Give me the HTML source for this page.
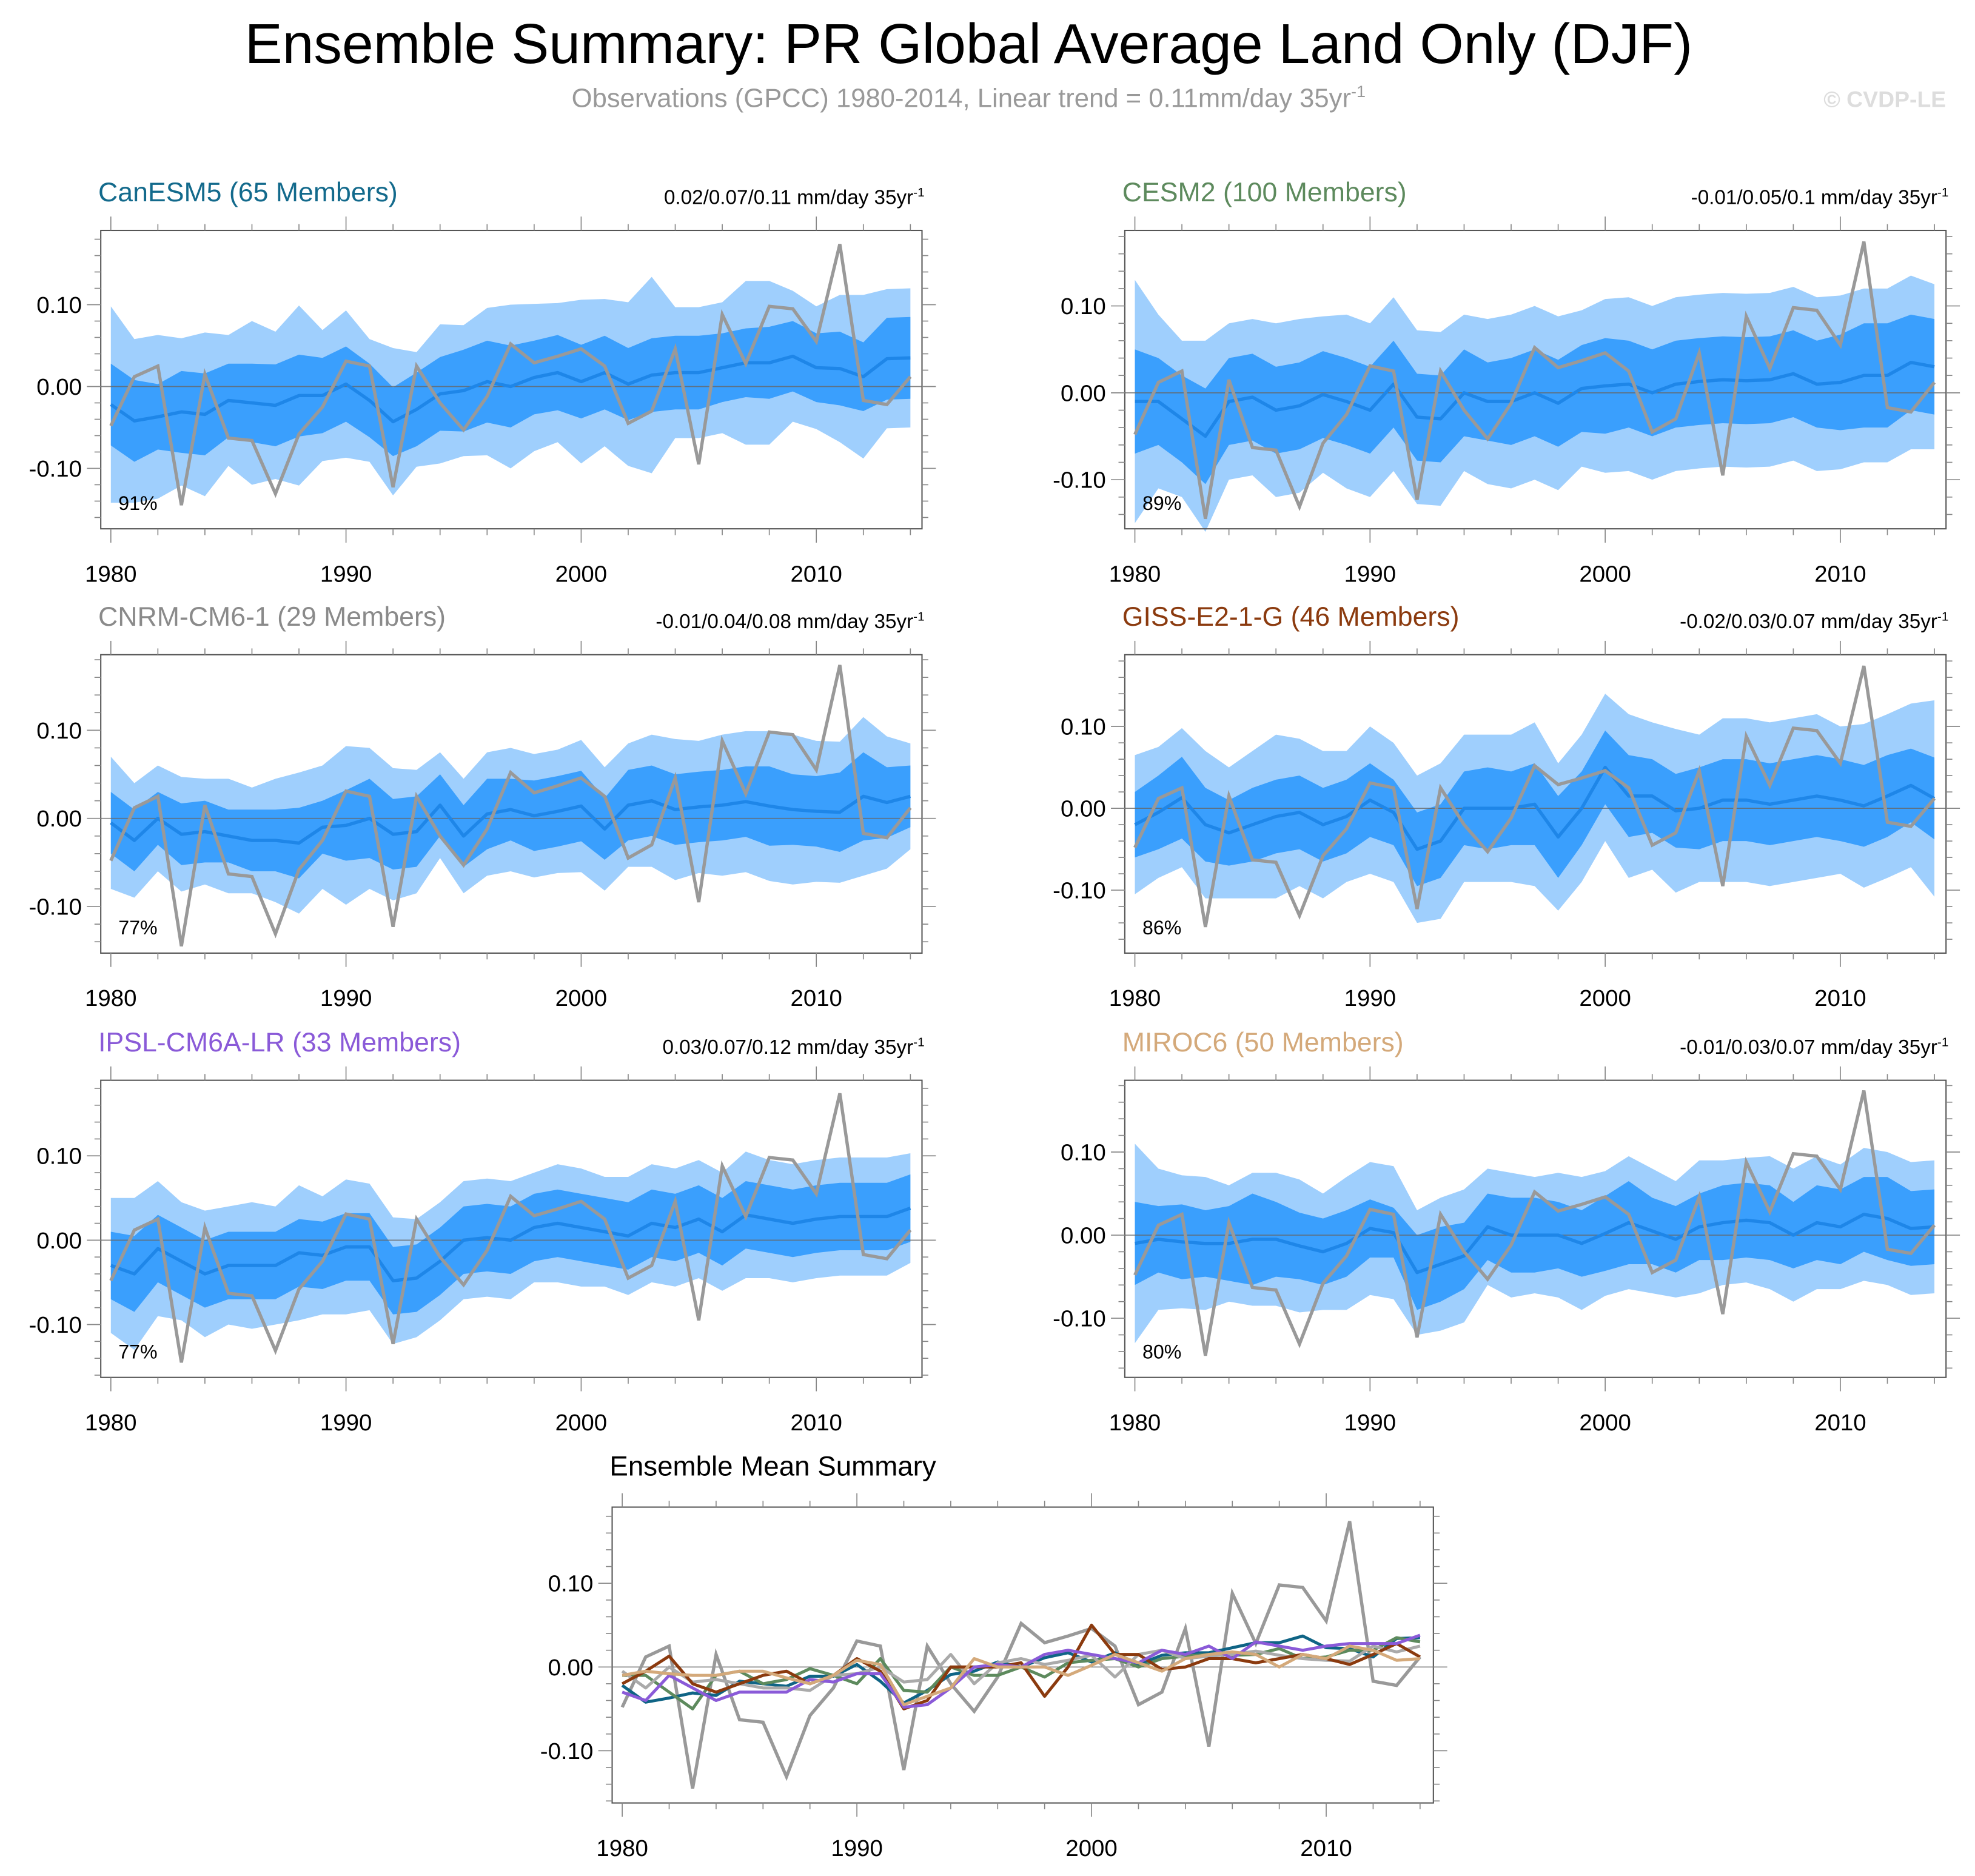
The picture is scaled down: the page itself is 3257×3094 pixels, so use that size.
<!DOCTYPE html>
<html><head><meta charset="utf-8">
<style>
html,body{margin:0;padding:0;background:#fff;}
svg{display:block;font-family:"Liberation Sans",Arial,sans-serif;}
</style></head>
<body>
<svg id="chart" width="3257" height="3094" viewBox="0 0 1568 1490" preserveAspectRatio="none" xmlns="http://www.w3.org/2000/svg">
<text x="769" y="50" font-size="44.8" text-anchor="middle" fill="#000">Ensemble Summary: PR Global Average Land Only (DJF)</text>
<text x="769" y="85" font-size="21" text-anchor="middle" fill="#999">Observations (GPCC) 1980-2014, Linear trend = 0.11mm/day 35yr<tspan dy="-8" font-size="13">-1</tspan></text>
<text x="1545" y="85" font-size="18" font-weight="bold" text-anchor="end" fill="#ddd">© CVDP-LE</text>
<g id="plots"></g>
</svg>
<script>
const years = [1980,1981,1982,1983,1984,1985,1986,1987,1988,1989,1990,1991,1992,1993,1994,1995,1996,1997,1998,1999,2000,2001,2002,2003,2004,2005,2006,2007,2008,2009,2010,2011,2012,2013,2014];
const obsGPCC = [-0.048,0.012,0.025,-0.145,0.015,-0.063,-0.066,-0.131,-0.058,-0.025,0.031,0.025,-0.123,0.025,-0.02,-0.053,-0.012,0.052,0.029,0.037,0.046,0.025,-0.045,-0.03,0.046,-0.095,0.088,0.028,0.098,0.095,0.055,0.174,-0.017,-0.022,0.012];
const yTickLabels = ["0.10","0.00","-0.10"];
const yTickValues = [0.1,0,-0.1];
const xTickValues = [1980,1990,2000,2010];

const meanCanESM5 = [-0.022,-0.042,-0.037,-0.031,-0.034,-0.017,-0.02,-0.023,-0.011,-0.011,0.003,-0.017,-0.043,-0.028,-0.009,-0.005,0.006,0,0.011,0.017,0.006,0.017,0.003,0.014,0.017,0.017,0.023,0.029,0.029,0.037,0.023,0.022,0.012,0.034,0.035];
const innerCanESM5 = [0.05,0.05,0.04,0.05,0.05,0.045,0.048,0.05,0.05,0.046,0.046,0.045,0.042,0.045,0.045,0.05,0.05,0.05,0.045,0.046,0.045,0.045,0.044,0.045,0.045,0.045,0.042,0.042,0.044,0.043,0.042,0.045,0.042,0.05,0.05];
const outerCanESM5 = [0.12,0.1,0.1,0.09,0.1,0.08,0.1,0.09,0.11,0.08,0.09,0.075,0.09,0.07,0.085,0.08,0.09,0.1,0.09,0.085,0.1,0.09,0.1,0.12,0.08,0.08,0.08,0.1,0.1,0.08,0.075,0.09,0.1,0.085,0.085];

const meanCESM2 = [-0.01,-0.01,-0.03,-0.05,-0.01,-0.005,-0.02,-0.015,-0.002,-0.01,-0.02,0.01,-0.028,-0.03,0,-0.01,-0.01,0,-0.012,0.005,0.008,0.01,0,0.01,0.013,0.015,0.014,0.015,0.022,0.01,0.012,0.02,0.02,0.035,0.03];
const innerCESM2 = [0.06,0.05,0.05,0.055,0.05,0.05,0.05,0.05,0.05,0.05,0.05,0.05,0.05,0.05,0.05,0.045,0.05,0.05,0.05,0.05,0.055,0.05,0.05,0.05,0.05,0.05,0.05,0.05,0.05,0.05,0.055,0.06,0.06,0.055,0.055];
const outerCESM2 = [0.14,0.1,0.09,0.11,0.09,0.09,0.1,0.1,0.09,0.1,0.1,0.1,0.1,0.1,0.09,0.095,0.1,0.1,0.1,0.09,0.1,0.1,0.1,0.1,0.1,0.1,0.1,0.1,0.1,0.1,0.1,0.1,0.1,0.1,0.095];

const meanCNRM = [-0.005,-0.025,0,-0.018,-0.015,-0.02,-0.025,-0.025,-0.028,-0.01,-0.008,0,-0.018,-0.015,0.015,-0.02,0.005,0.01,0.003,0.008,0.014,-0.012,0.015,0.02,0.01,0.013,0.015,0.019,0.014,0.01,0.008,0.007,0.025,0.018,0.025];
const innerCNRM = [0.035,0.035,0.03,0.035,0.035,0.03,0.035,0.035,0.04,0.03,0.04,0.045,0.04,0.04,0.035,0.035,0.04,0.035,0.04,0.04,0.04,0.035,0.04,0.04,0.04,0.04,0.04,0.04,0.045,0.04,0.04,0.045,0.05,0.04,0.035];
const outerCNRM = [0.075,0.065,0.06,0.065,0.06,0.065,0.06,0.07,0.08,0.07,0.09,0.08,0.075,0.07,0.06,0.065,0.07,0.07,0.07,0.07,0.075,0.07,0.07,0.075,0.08,0.075,0.08,0.08,0.085,0.085,0.08,0.08,0.09,0.075,0.06];

const meanGISS = [-0.02,-0.005,0.013,-0.02,-0.03,-0.02,-0.01,-0.005,-0.02,-0.01,0.01,-0.005,-0.05,-0.04,0,0,0,0.005,-0.035,0,0.05,0.015,0.015,-0.003,0,0.01,0.01,0.005,0.01,0.015,0.01,0.003,0.015,0.028,0.012];
const innerGISS = [0.04,0.045,0.05,0.045,0.04,0.045,0.045,0.045,0.045,0.045,0.045,0.04,0.045,0.045,0.045,0.05,0.045,0.05,0.05,0.045,0.045,0.05,0.045,0.045,0.05,0.05,0.05,0.05,0.05,0.05,0.05,0.05,0.05,0.045,0.05];
const outerGISS = [0.085,0.08,0.085,0.09,0.08,0.09,0.1,0.09,0.09,0.08,0.09,0.085,0.09,0.095,0.09,0.09,0.09,0.1,0.09,0.09,0.09,0.1,0.09,0.1,0.09,0.1,0.1,0.1,0.1,0.1,0.09,0.1,0.1,0.1,0.12];

const meanIPSL = [-0.03,-0.04,-0.01,-0.025,-0.04,-0.03,-0.03,-0.03,-0.015,-0.018,-0.008,-0.008,-0.048,-0.045,-0.025,0,0.003,0,0.015,0.02,0.015,0.01,0.005,0.02,0.015,0.025,0.01,0.03,0.025,0.02,0.025,0.028,0.028,0.028,0.038];
const innerIPSL = [0.04,0.045,0.04,0.04,0.04,0.04,0.04,0.04,0.04,0.04,0.04,0.04,0.04,0.04,0.04,0.04,0.04,0.04,0.04,0.04,0.04,0.04,0.04,0.04,0.04,0.04,0.04,0.04,0.04,0.04,0.04,0.04,0.04,0.04,0.04];
const outerIPSL = [0.08,0.09,0.08,0.07,0.075,0.07,0.075,0.07,0.08,0.07,0.08,0.075,0.075,0.07,0.07,0.07,0.07,0.07,0.065,0.07,0.07,0.065,0.07,0.07,0.07,0.07,0.07,0.075,0.07,0.07,0.07,0.07,0.07,0.07,0.065];

const meanMIROC6 = [-0.01,-0.005,-0.008,-0.01,-0.01,-0.005,-0.005,-0.013,-0.02,-0.01,0.008,0.003,-0.045,-0.035,-0.025,0.01,0,0,0,-0.01,0.002,0.015,0.005,-0.005,0.01,0.015,0.018,0.015,0,0.015,0.01,0.025,0.02,0.008,0.01];
const innerMIROC6 = [0.05,0.04,0.045,0.04,0.045,0.055,0.045,0.04,0.04,0.04,0.035,0.03,0.045,0.045,0.04,0.04,0.045,0.045,0.04,0.04,0.045,0.05,0.04,0.04,0.04,0.045,0.045,0.045,0.04,0.045,0.045,0.045,0.05,0.045,0.045];
const outerMIROC6 = [0.12,0.085,0.08,0.08,0.07,0.08,0.08,0.08,0.07,0.08,0.08,0.08,0.075,0.08,0.08,0.07,0.075,0.07,0.075,0.08,0.075,0.08,0.075,0.07,0.08,0.075,0.075,0.08,0.08,0.08,0.075,0.08,0.08,0.08,0.08];

const NS='http://www.w3.org/2000/svg';
const root=document.getElementById('plots');
function mk(tag,attrs,parent){const e=document.createElementNS(NS,tag);for(const k in attrs)e.setAttribute(k,attrs[k]);(parent||root).appendChild(e);return e;}

function drawAxes(g,p){
  const xs=v=>p.x1980+(v-1980)*p.pxYr;
  const ys=v=>p.zeroY-v*p.px01*100;
  mk('rect',{x:p.x0,y:p.y0,width:p.x1-p.x0,height:p.y1-p.y0,fill:'none',stroke:'#555','stroke-width':1},g);
  for(let yr=1980;yr<=2014;yr+=2){
    const major=(yr%10===0);const L=major?11:5;const x=xs(yr);
    mk('line',{x1:x,x2:x,y1:p.y1,y2:p.y1+L,stroke:'#888','stroke-width':0.8},g);
    mk('line',{x1:x,x2:x,y1:p.y0,y2:p.y0-L,stroke:'#888','stroke-width':0.8},g);
  }
  for(let k=-10;k<=10;k++){
    const v=k*0.02;const y=ys(v);
    if(y<p.y0-0.5||y>p.y1+0.5)continue;
    const major=(k%5===0);const L=major?11:5;
    mk('line',{x1:p.x0,x2:p.x0-L,y1:y,y2:y,stroke:'#888','stroke-width':0.8},g);
    mk('line',{x1:p.x1,x2:p.x1+L,y1:y,y2:y,stroke:'#888','stroke-width':0.8},g);
  }
  yTickValues.forEach((v,i)=>{
    const t=mk('text',{x:p.x0-15,y:ys(v)+6.5,'font-size':18.5,'text-anchor':'end',fill:'#000'},g);
    
    
    t.textContent=yTickLabels[i];
  });
  xTickValues.forEach(v=>{
    const t=mk('text',{x:xs(v),y:p.y1+42,'font-size':18.5,'text-anchor':'middle',fill:'#000'},g);
    
    
    t.textContent=String(v);
  });
  return {xs,ys};
}
function zeroLine(g,p,ys){mk('line',{x1:p.x0,x2:p.x1,y1:ys(0),y2:ys(0),stroke:'#666','stroke-width':0.8,'stroke-opacity':0.8},g);}
function linePath(xs,ys,arr){return arr.map((v,i)=>(i?'L':'M')+xs(years[i]).toFixed(2)+','+ys(v).toFixed(2)).join(' ');}
function bandPath(xs,ys,mean,half){
  let d='';years.forEach((y,i)=>{d+=(i?'L':'M')+xs(y).toFixed(2)+','+ys(mean[i]+half[i]).toFixed(2);});
  for(let i=years.length-1;i>=0;i--)d+='L'+xs(years[i]).toFixed(2)+','+ys(mean[i]-half[i]).toFixed(2);
  return d+'Z';
}

const panels=[
 {name:'CanESM5 (65 Members)',color:'#136a8c',trend:'0.02/0.07/0.11 mm/day 35yr',pct:'91%',mean:meanCanESM5,inner:innerCanESM5,outer:outerCanESM5,x0:80,x1:732,y0:183,y1:420,zeroY:307,px01:6.5,x1980:88,pxYr:18.67,slug:'canesm5'},
 {name:'CESM2 (100 Members)',color:'#5d8a5d',trend:'-0.01/0.05/0.1 mm/day 35yr',pct:'89%',mean:meanCESM2,inner:innerCESM2,outer:outerCESM2,x0:893,x1:1545,y0:183,y1:420,zeroY:312,px01:6.9,x1980:901,pxYr:18.67,slug:'cesm2'},
 {name:'CNRM-CM6-1 (29 Members)',color:'#8a8a8a',trend:'-0.01/0.04/0.08 mm/day 35yr',pct:'77%',mean:meanCNRM,inner:innerCNRM,outer:outerCNRM,x0:80,x1:732,y0:520,y1:757,zeroY:650,px01:7.0,x1980:88,pxYr:18.67,slug:'cnrm-cm6-1'},
 {name:'GISS-E2-1-G (46 Members)',color:'#8b3a0e',trend:'-0.02/0.03/0.07 mm/day 35yr',pct:'86%',mean:meanGISS,inner:innerGISS,outer:outerGISS,x0:893,x1:1545,y0:520,y1:757,zeroY:642,px01:6.5,x1980:901,pxYr:18.67,slug:'giss-e2-1-g'},
 {name:'IPSL-CM6A-LR (33 Members)',color:'#8a5ad8',trend:'0.03/0.07/0.12 mm/day 35yr',pct:'77%',mean:meanIPSL,inner:innerIPSL,outer:outerIPSL,x0:80,x1:732,y0:858,y1:1094,zeroY:985,px01:6.7,x1980:88,pxYr:18.67,slug:'ipsl-cm6a-lr'},
 {name:'MIROC6 (50 Members)',color:'#d4a97a',trend:'-0.01/0.03/0.07 mm/day 35yr',pct:'80%',mean:meanMIROC6,inner:innerMIROC6,outer:outerMIROC6,x0:893,x1:1545,y0:858,y1:1094,zeroY:981,px01:6.6,x1980:901,pxYr:18.67,slug:'miroc6'}
];

panels.forEach(p=>{
  const g=mk('g',{});
  
  
  const xs=v=>p.x1980+(v-1980)*p.pxYr;
  const ys=v=>p.zeroY-v*p.px01*100;
  const ob=mk('path',{d:bandPath(xs,ys,p.mean,p.outer),fill:'#9fcffd'},g);
  
  
  const ib=mk('path',{d:bandPath(xs,ys,p.mean,p.inner),fill:'#3a9ffd'},g);
  
  
  drawAxes(g,p);
  zeroLine(g,p,ys);
  const ml=mk('path',{d:linePath(xs,ys,p.mean),fill:'none',stroke:'#1e86e8','stroke-width':2.6,'stroke-linejoin':'round'},g);
  
  
  const ol=mk('path',{d:linePath(xs,ys,obsGPCC),fill:'none',stroke:'#999','stroke-width':2.6,'stroke-linejoin':'miter'},g);
  
  
  const t=mk('text',{x:p.x0-2,y:p.y0-23,'font-size':21.5,fill:p.color},g);
  
  
  t.textContent=p.name;
  const tr=mk('text',{x:p.x1+2,y:p.y0-21,'font-size':16,'text-anchor':'end',fill:'#000'},g);
  
  
  tr.textContent=p.trend;
  const sup=mk('tspan',{dy:-6,'font-size':10},tr);
  sup.textContent='-1';
  const pc=mk('text',{x:p.x0+14,y:p.y1-15,'font-size':15.5,fill:'#000'},g);
  
  
  pc.textContent=p.pct;
});

// Ensemble mean summary
const bp={x0:486,x1:1138,y0:1197,y1:1432,zeroY:1324,px01:6.65,x1980:494,pxYr:18.63};
const bg=mk('g',{});


const bax=drawAxes(bg,bp);
zeroLine(bg,bp,bax.ys);
const bt=mk('text',{x:484,y:1172,'font-size':22,fill:'#000'},bg);


bt.textContent='Ensemble Mean Summary';
const so=mk('path',{d:linePath(bax.xs,bax.ys,obsGPCC),fill:'none',stroke:'#999','stroke-width':2.6},bg);


const summaryColors=['#0f6485','#5d8a5d','#aaaaaa','#8b3a0e','#8a5ad8','#d4a97a'];
panels.forEach((p,i)=>{
  const l=mk('path',{d:linePath(bax.xs,bax.ys,p.mean),fill:'none',stroke:summaryColors[i],'stroke-width':2.4,'stroke-linejoin':'round'},bg);
  
  
});
</script>
</body></html>
